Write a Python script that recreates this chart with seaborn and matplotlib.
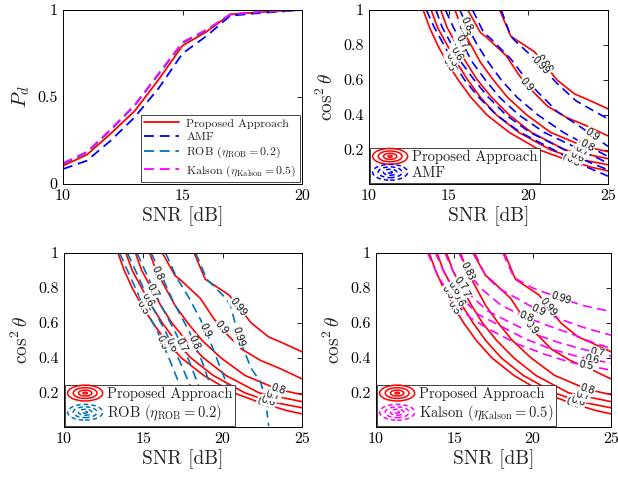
import numpy as np
import matplotlib
matplotlib.use("Agg")
import matplotlib.pyplot as plt
import seaborn as sns
from matplotlib.patches import Ellipse
from matplotlib.legend_handler import HandlerBase
from matplotlib.lines import Line2D

# ---------------- data ----------------
snr_pd = [10, 11, 12, 13, 14, 15, 16, 17, 18, 19, 20]
pd_prop = [0.105, 0.168, 0.29, 0.42, 0.60, 0.795, 0.875, 0.975, 0.985, 0.995, 1.0]
pd_amf = [0.086, 0.134, 0.25, 0.384, 0.55, 0.75, 0.85, 0.967, 0.98, 0.99, 1.0]
pd_rob = [0.115, 0.18, 0.31, 0.45, 0.63, 0.81, 0.882, 0.975, 0.985, 0.993, 1.0]
pd_kal = [0.12, 0.185, 0.315, 0.455, 0.635, 0.815, 0.887, 0.975, 0.986, 0.994, 1.0]

level_txt = ["0.5", "0.6", "0.7", "0.8", "0.9", "0.99"]

prop_snr = [
    [13.4, 13.8, 14.3, 14.9, 15.6, 16.4, 17.4, 18.8, 20.7, 22.2, 24.0, 25.0],
    [13.9, 14.3, 14.9, 15.5, 16.2, 17.0, 18.0, 19.4, 21.4, 23.0, 25.0],
    [14.5, 14.9, 15.5, 16.1, 16.8, 17.7, 18.8, 20.2, 22.3, 25.0],
    [15.4, 15.8, 16.4, 17.0, 17.8, 18.7, 19.9, 21.4, 23.5, 25.0],
    [16.2, 17.0, 17.3, 18.6, 19.4, 20.0, 21.2, 22.4, 23.6, 25.0],
    [18.2, 18.9, 20.4, 21.8, 22.9, 23.8, 25.0]]
prop_cos = [
    [1.0, 0.9, 0.8, 0.7, 0.6, 0.5, 0.4, 0.3, 0.2, 0.15, 0.1, 0.08],
    [1.0, 0.9, 0.8, 0.7, 0.6, 0.5, 0.4, 0.3, 0.2, 0.15, 0.115],
    [1.0, 0.9, 0.8, 0.7, 0.6, 0.5, 0.4, 0.3, 0.2, 0.15],
    [1.0, 0.9, 0.8, 0.7, 0.6, 0.5, 0.4, 0.3, 0.22, 0.19],
    [1.0, 0.87, 0.85, 0.74, 0.63, 0.56, 0.45, 0.385, 0.34, 0.28],
    [1.0, 0.85, 0.76, 0.6, 0.52, 0.485, 0.435]]

amf_snr = [
    [13.6, 14.1, 14.7, 15.3, 16.0, 16.9, 18.0, 19.5, 21.6, 23.2, 25.0],
    [14.2, 14.6, 15.2, 15.8, 16.6, 17.5, 18.6, 20.1, 22.3, 23.8, 25.0],
    [14.8, 15.3, 15.9, 16.5, 17.3, 18.2, 19.4, 21.0, 23.3, 25.0],
    [15.7, 16.2, 16.8, 17.5, 18.3, 19.3, 20.6, 22.2, 25.0],
    [16.5, 17.2, 17.6, 18.9, 19.9, 20.6, 21.8, 23.3, 25.0],
    [18.3, 18.9, 19.1, 20.4, 21.8, 23.0, 25.0]]
amf_cos = [
    [1.0, 0.9, 0.8, 0.7, 0.6, 0.5, 0.4, 0.3, 0.2, 0.12, 0.05],
    [1.0, 0.9, 0.8, 0.7, 0.6, 0.5, 0.4, 0.3, 0.2, 0.13, 0.086],
    [1.0, 0.9, 0.8, 0.7, 0.6, 0.5, 0.4, 0.3, 0.2, 0.124],
    [1.0, 0.9, 0.8, 0.7, 0.6, 0.5, 0.4, 0.3, 0.162],
    [1.0, 0.87, 0.84, 0.72, 0.6, 0.53, 0.42, 0.33, 0.22],
    [1.0, 0.85, 0.83, 0.72, 0.58, 0.48, 0.377]]

rob_snr = [
    [13.5, 14.1, 14.9, 15.9, 16.7, 17.4, 17.9],
    [14.0, 14.6, 15.4, 16.4, 17.3, 18.05, 18.6],
    [14.6, 15.2, 16.0, 17.0, 17.9, 18.57, 19.1],
    [15.5, 16.1, 16.9, 17.9, 18.7, 19.31, 19.8],
    [16.4, 17.1, 17.9, 18.6, 19.1, 19.7, 20.4, 20.8],
    [18.3, 19.0, 20.0, 20.5, 21.0, 21.8, 22.4, 22.7, 22.9]]
rob_cos = [
    [1.0, 0.88, 0.72, 0.55, 0.38, 0.22, 0.01],
    [1.0, 0.88, 0.72, 0.55, 0.38, 0.22, 0.01],
    [1.0, 0.88, 0.72, 0.55, 0.38, 0.22, 0.01],
    [1.0, 0.88, 0.72, 0.55, 0.38, 0.22, 0.01],
    [1.0, 0.86, 0.74, 0.62, 0.52, 0.38, 0.22, 0.01],
    [1.0, 0.85, 0.76, 0.70, 0.52, 0.34, 0.26, 0.16, 0.01]]

kal_snr = [
    [13.3, 14.0, 14.8, 16.0, 17.3, 19.0, 20.8, 22.4, 25.0],
    [13.8, 14.5, 15.3, 16.5, 17.8, 19.5, 21.2, 22.8, 25.0],
    [14.4, 15.1, 15.9, 17.1, 18.4, 20.0, 21.6, 23.2, 25.0],
    [15.3, 16.0, 16.8, 18.0, 19.4, 20.8, 22.4, 23.8, 25.0],
    [16.3, 17.0, 17.8, 19.0, 20.4, 21.8, 23.4, 25.0],
    [18.1, 18.8, 20.0, 21.5, 23.2, 25.0]]
kal_cos = [
    [1.0, 0.86, 0.75, 0.63, 0.56, 0.48, 0.42, 0.375, 0.33],
    [1.0, 0.86, 0.76, 0.65, 0.59, 0.51, 0.45, 0.41, 0.37],
    [1.0, 0.86, 0.77, 0.67, 0.61, 0.54, 0.49, 0.45, 0.41],
    [1.0, 0.87, 0.79, 0.70, 0.64, 0.59, 0.54, 0.49, 0.455],
    [1.0, 0.87, 0.80, 0.74, 0.67, 0.62, 0.57, 0.53],
    [1.0, 0.86, 0.80, 0.75, 0.70, 0.665]]

# label positions (SNR along each contour line)
prop_lab_upper = [15.0, 15.3, 15.6, 15.9]
prop_lab_lower = [22.6, 22.9, 23.2, 23.5]
prop_lab_mid = {4: 19.9, 5: 21.0}
amf_lab_upper = [15.2, 15.5, 15.8, 16.1]
amf_lab_lower = [22.8, 23.1, 23.4, 23.7]
amf_lab_mid = {4: 24.0, 5: 20.8}
rob_lab = [16.2, 16.8, 17.4, 18.2, 18.9, 21.0]
kal_lab_upper = [14.6, 15.0, 15.4, 15.8]
kal_lab_mid = {3: 19.6, 4: 20.4, 5: 21.8, 2: 24.1, 1: 23.8, 0: 23.4}

# ---------------- style ----------------
sns.set_theme(style="white")
plt.rcParams["font.family"] = ["cmr10", "DejaVu Serif"]
plt.rcParams["mathtext.fontset"] = "cm"
plt.rcParams["axes.formatter.use_mathtext"] = True
plt.rcParams["axes.unicode_minus"] = False

RED = "#FF0000"
AMF_C = "#0000FF"
ROB_C = "#0072BD"
KAL_C = "#FF00FF"
DASH = (0, (5.5, 3.2))

W, H = 618, 480
fig = plt.figure(figsize=(W / 100, H / 100), dpi=100)


def box(l, t, r, b):
    return [l / W, 1 - b / H, (r - l) / W, (b - t) / H]


ax1 = fig.add_axes(box(63, 10, 302, 184))
ax2 = fig.add_axes(box(369, 10, 608, 184))
ax3 = fig.add_axes(box(64, 253, 302, 427))
ax4 = fig.add_axes(box(376, 253, 611, 427))


def style_axis(ax):
    for s in ax.spines.values():
        s.set_visible(True)
        s.set_color("black")
        s.set_linewidth(0.7)
    ax.tick_params(direction="in", top=True, right=True, length=3.5, width=0.6,
                   labelsize=11.5, colors="black", pad=4)


# ---------------- panel 1 ----------------
sns.lineplot(x=snr_pd, y=pd_prop, ax=ax1, color=RED, lw=1.3, estimator=None, sort=False)
sns.lineplot(x=snr_pd, y=pd_amf, ax=ax1, color=AMF_C, lw=1.3, linestyle=DASH, estimator=None, sort=False)
sns.lineplot(x=snr_pd, y=pd_rob, ax=ax1, color=ROB_C, lw=1.3, linestyle=DASH, estimator=None, sort=False)
sns.lineplot(x=snr_pd, y=pd_kal, ax=ax1, color=KAL_C, lw=1.3, linestyle=DASH, estimator=None, sort=False)
ax1.set_xlim(10, 20)
ax1.set_ylim(0, 1)
ax1.set_xticks([10, 15, 20])
ax1.set_xticklabels(["10", "15", "20"])
ax1.set_yticks([0, 0.5, 1])
ax1.set_yticklabels(["0", "0.5", "1"])
style_axis(ax1)
ax1.set_xlabel("SNR [dB]", fontsize=14, labelpad=2)
ax1.set_ylabel(r"$P_d$", fontsize=15, labelpad=4)
h1 = [Line2D([], [], color=RED, lw=1.3),
      Line2D([], [], color=AMF_C, lw=1.3, linestyle=DASH),
      Line2D([], [], color=ROB_C, lw=1.3, linestyle=DASH),
      Line2D([], [], color=KAL_C, lw=1.3, linestyle=DASH)]
lab1 = ["Proposed Approach", "AMF", r"ROB ($\eta_{\mathrm{ROB}} = 0.2$)",
        r"Kalson ($\eta_{\mathrm{Kalson}} = 0.5$)"]
leg = ax1.legend(h1, lab1, loc="lower right", fontsize=8.6, frameon=True, fancybox=False,
                 edgecolor="#262626", framealpha=1, borderaxespad=0.15, borderpad=0.3,
                 labelspacing=0.25, handlelength=2.9, handletextpad=0.6)
leg.get_frame().set_linewidth(0.6)


# ---------------- contour panels ----------------
class RingHandler(HandlerBase):
    def __init__(self, color, dashed):
        super().__init__()
        self.color = color
        self.dashed = dashed

    def create_artists(self, legend, orig_handle, xdescent, ydescent, width, height,
                       fontsize, trans):
        cx = 0.5 * width - xdescent
        cy = 0.5 * height - ydescent
        arts = []
        for f in (1.0, 0.68, 0.38, 0.12):
            e = Ellipse((cx, cy), width * f, height * 1.55 * f, fill=False,
                        edgecolor=self.color, lw=1.1,
                        linestyle=(0, (3, 2)) if self.dashed else "-", transform=trans)
            arts.append(e)
        return arts


def draw_set(ax, snrs, coss, color, dashed):
    for xs, ys in zip(snrs, coss):
        kw = dict(linestyle=DASH) if dashed else {}
        sns.lineplot(x=xs, y=ys, ax=ax, color=color, lw=1.2, estimator=None, sort=False, **kw)


def setup_contour_axis(ax):
    ax.set_xlim(10, 25)
    ax.set_ylim(0.005, 1)
    ax.set_xticks([10, 15, 20, 25])
    ax.set_xticklabels(["10", "15", "20", "25"])
    ax.set_yticks([0.2, 0.4, 0.6, 0.8, 1.0])
    ax.set_yticklabels(["0.2", "0.4", "0.6", "0.8", "1"])
    style_axis(ax)
    ax.set_xlabel("SNR [dB]", fontsize=14, labelpad=2)
    ax.set_ylabel(r"$\cos^2\theta$", fontsize=14, labelpad=4)


def label_at(ax, xs, ys, x0, txt):
    xs = np.asarray(xs, float)
    ys = np.asarray(ys, float)
    y0 = np.interp(x0, xs, ys)
    xa, xb = x0 - 0.25, x0 + 0.25
    ya, yb = np.interp([xa, xb], xs, ys)
    p = ax.transData.transform([[xa, ya], [xb, yb]])
    ang = np.degrees(np.arctan2(p[1, 1] - p[0, 1], p[1, 0] - p[0, 0]))
    ax.text(x0, y0, txt, rotation=ang, rotation_mode="anchor", ha="center", va="center",
            fontsize=7.5, family=["Liberation Sans", "DejaVu Sans"], color="black", zorder=4,
            bbox=dict(boxstyle="square,pad=0.08", fc="white", ec="none"))


def prop_labels(ax):
    for i in range(4):
        label_at(ax, prop_snr[i], prop_cos[i], prop_lab_upper[i], level_txt[i])
        label_at(ax, prop_snr[i], prop_cos[i], prop_lab_lower[i], level_txt[i])
    for i, x0 in prop_lab_mid.items():
        label_at(ax, prop_snr[i], prop_cos[i], x0, level_txt[i])


def contour_legend(ax, color, dashed, label):
    p1 = Line2D([], [])
    p2 = Line2D([], [])
    lg = ax.legend([p1, p2], ["Proposed Approach", label], loc="lower left",
                   handler_map={p1: RingHandler(RED, False), p2: RingHandler(color, dashed)},
                   fontsize=10.5, frameon=True, fancybox=False, edgecolor="#262626",
                   framealpha=1, borderaxespad=0.1, borderpad=0.15, labelspacing=0.15,
                   handlelength=2.4, handletextpad=0.3)
    lg.get_frame().set_linewidth(0.6)
    lg.set_zorder(6)


# panel 2: AMF
draw_set(ax2, prop_snr, prop_cos, RED, False)
draw_set(ax2, amf_snr, amf_cos, AMF_C, True)
setup_contour_axis(ax2)
prop_labels(ax2)
for i in range(4):
    label_at(ax2, amf_snr[i], amf_cos[i], amf_lab_upper[i], level_txt[i])
    label_at(ax2, amf_snr[i], amf_cos[i], amf_lab_lower[i], level_txt[i])
for i, x0 in amf_lab_mid.items():
    label_at(ax2, amf_snr[i], amf_cos[i], x0, level_txt[i])
contour_legend(ax2, AMF_C, True, "AMF")

# panel 3: ROB
draw_set(ax3, prop_snr, prop_cos, RED, False)
draw_set(ax3, rob_snr, rob_cos, ROB_C, True)
setup_contour_axis(ax3)
prop_labels(ax3)
for i in range(6):
    label_at(ax3, rob_snr[i], rob_cos[i], rob_lab[i], level_txt[i])
contour_legend(ax3, ROB_C, True, r"ROB ($\eta_{\mathrm{ROB}} = 0.2$)")

# panel 4: Kalson
draw_set(ax4, prop_snr, prop_cos, RED, False)
draw_set(ax4, kal_snr, kal_cos, KAL_C, True)
setup_contour_axis(ax4)
prop_labels(ax4)
for i in range(4):
    label_at(ax4, kal_snr[i], kal_cos[i], kal_lab_upper[i], level_txt[i])
for i, x0 in kal_lab_mid.items():
    label_at(ax4, kal_snr[i], kal_cos[i], x0, level_txt[i])
contour_legend(ax4, KAL_C, True, r"Kalson ($\eta_{\mathrm{Kalson}} = 0.5$)")

fig.savefig("out.png", dpi=100)
